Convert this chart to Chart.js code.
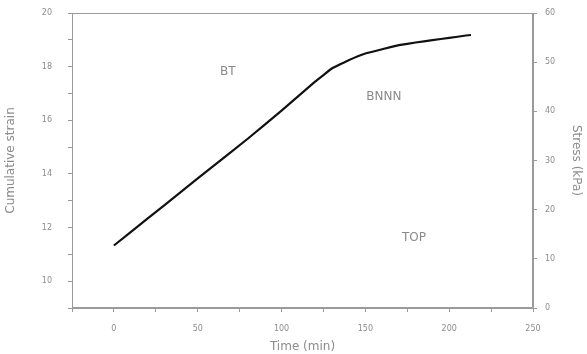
<!DOCTYPE html>
<html>
<head>
<meta charset="utf-8">
<script src="https://cdn.jsdelivr.net/npm/chart.js@4.4.1/dist/chart.umd.min.js"></script>
<style>
  html, body { margin: 0; padding: 0; background: #fff; }
  #wrap { width: 587px; height: 354px; position: relative; }
</style>
</head>
<body>
<div id="wrap"><canvas id="strainChart"></canvas></div>
<script>
// data
const timeValues = [0, 20, 40, 60, 80, 100, 120, 130, 140, 150, 160, 170, 180, 190, 200, 210, 213];
const strainValues = [11.33, 12.33, 13.33, 14.33, 15.32, 16.36, 17.44, 17.93, 18.24, 18.49, 18.65, 18.80, 18.90, 18.99, 19.07, 19.16, 19.18];
const stressTicks = [0, 10, 20, 30, 40, 50, 60];
const notes = [
    { text: 'BT', x: 68, y: 17.8 },
    { text: 'BNNN', x: 161, y: 16.86 },
    { text: 'TOP', x: 179, y: 11.6 }
];

const axisColor = '#9a9a9a';
const textColor = '#8c8c8c';

// grey box round the plot area and the text notes inside it
const framePlugin = {
    id: 'frame',
    afterDraw(chart) {
        const { ctx, chartArea, scales } = chart;
        ctx.save();
        ctx.strokeStyle = axisColor;
        ctx.lineWidth = 1;
        ctx.strokeRect(chartArea.left + 0.5, chartArea.top + 0.5, chartArea.width - 1, chartArea.height - 1);
        ctx.font = '12px "DejaVu Sans", sans-serif';
        ctx.fillStyle = '#8a8a8a';
        ctx.textAlign = 'center';
        ctx.textBaseline = 'middle';
        notes.forEach(n => {
            ctx.fillText(n.text, scales.x.getPixelForValue(n.x), scales.y.getPixelForValue(n.y));
        });
        ctx.restore();
    }
};

const tickFont = { family: '"DejaVu Sans", sans-serif', size: 8 };
const titleFont = { family: '"DejaVu Sans", sans-serif', size: 12 };

new Chart(document.getElementById('strainChart'), {
    type: 'line',
    data: {
        datasets: [{
            data: timeValues.map((t, i) => ({ x: t, y: strainValues[i] })),
            borderColor: '#111',
            borderWidth: 2.2,
            pointRadius: 0,
            tension: 0.05,
            fill: false,
            yAxisID: 'y'
        }]
    },
    options: {
        responsive: true,
        maintainAspectRatio: false,
        animation: false,
        layout: { padding: { top: 13, left: 0, right: 0, bottom: 0 } },
        plugins: { legend: { display: false }, tooltip: { enabled: false } },
        scales: {
            x: {
                type: 'linear',
                min: -25,
                max: 250,
                afterFit(scale) { scale.height = 46; scale.paddingLeft = 0; scale.paddingRight = 0; },
                ticks: {
                    stepSize: 25,
                    color: textColor,
                    font: tickFont,
                    maxRotation: 0,
                    padding: 12,
                    callback: v => (v >= 0 && v % 50 === 0) ? v : ''
                },
                grid: { drawOnChartArea: false, color: axisColor, tickLength: 4 },
                border: { color: axisColor },
                title: { display: true, text: 'Time (min)', color: textColor, font: titleFont, padding: { top: 0, bottom: 0 } }
            },
            y: {
                position: 'left',
                min: 9,
                max: 20,
                afterFit(scale) { scale.width = 72; scale.paddingTop = 0; scale.paddingBottom = 0; },
                ticks: {
                    stepSize: 1,
                    color: textColor,
                    font: tickFont,
                    padding: 16,
                    callback: v => (v % 2 === 0) ? v : ''
                },
                grid: { drawOnChartArea: false, color: axisColor, tickLength: 4 },
                border: { color: axisColor },
                title: { display: true, text: 'Cumulative strain', color: textColor, font: titleFont, padding: { bottom: 4 } }
            },
            y1: {
                position: 'right',
                min: stressTicks[0],
                max: stressTicks[stressTicks.length - 1],
                afterFit(scale) { scale.width = 54; scale.paddingTop = 0; scale.paddingBottom = 0; },
                afterBuildTicks(scale) { scale.ticks = stressTicks.map(v => ({ value: v })); },
                ticks: { color: textColor, font: tickFont, padding: 8 },
                grid: { drawOnChartArea: false, color: axisColor, tickLength: 4 },
                border: { color: axisColor },
                title: { display: true, text: 'Stress (kPa)', color: textColor, font: titleFont, padding: { top: 4 } }
            }
        }
    },
    plugins: [framePlugin]
});
</script>
</body>
</html>
